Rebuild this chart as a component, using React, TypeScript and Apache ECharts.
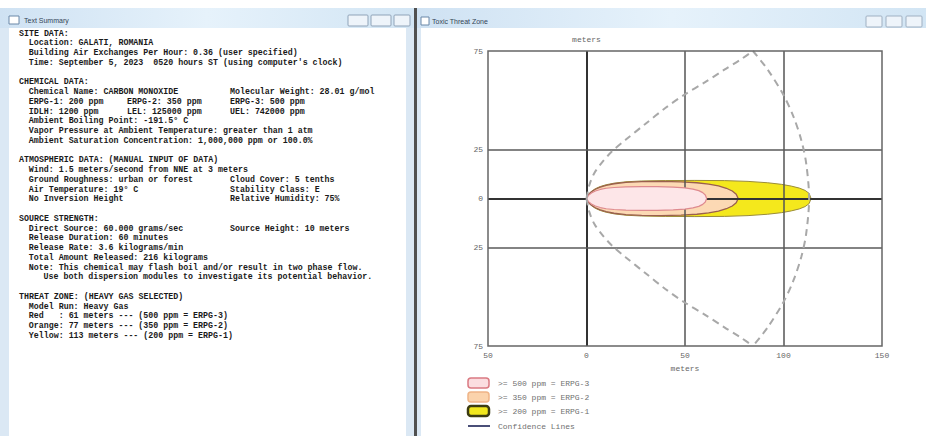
import React, { useEffect, useRef } from 'react';
import * as echarts from 'echarts';

// ---------- data ----------
const xTickValues = [-50, 0, 50, 100, 150];
const yGridValues = [25, 0, -25];
const xGridValues = [0, 50, 100];

// threat zones: downwind distance (m) and half-width (m)
const redX = [0, 1, 2.5, 4.5, 7, 10, 14, 20, 28, 36, 44, 50, 54, 57, 59, 60.3, 61];
const redHalf = [0, 1.6, 2.8, 3.8, 4.6, 5.2, 5.6, 5.9, 6, 6, 5.8, 5.4, 4.8, 4, 3, 1.8, 0];
const orangeX = [0, 1, 2.5, 4.5, 7, 10, 14, 20, 28, 38, 48, 56, 62, 67, 71, 74, 76, 77];
const orangeHalf = [0, 2, 3.4, 4.7, 5.8, 6.7, 7.5, 8.2, 8.6, 8.7, 8.5, 8, 7.3, 6.4, 5.2, 3.8, 2.2, 0];
const yellowX = [0, 1, 2.5, 4.5, 7, 10, 14, 20, 28, 40, 55, 70, 82, 92, 99, 104, 108, 111, 113, 114];
const yellowHalf = [0, 2.1, 3.6, 5, 6.1, 7, 7.8, 8.5, 8.9, 9.1, 9.2, 9.1, 8.7, 8, 7.2, 6.3, 5.3, 4.1, 2.6, 0];

// confidence lines: left edge (upper half) and the downwind arc
const confLeftX = [0, 1.5, 4, 8, 13, 20, 30, 40, 50, 60, 70, 78, 84.5];
const confLeftY = [0, 7, 13, 18.5, 24, 30, 38, 46, 53, 59, 65.5, 70.5, 75];
const confArcX = [84.5, 92, 100, 105, 109, 111.5, 113, 111.5, 109, 105, 100, 92, 84.5];
const confArcY = [75, 65.5, 52.6, 41.8, 29.8, 18, 0, -18, -29.8, -41.8, -52.6, -65.5, -75];

const legendLabels = ['>= 500 ppm = ERPG-3', '>= 350 ppm = ERPG-2', '>= 200 ppm = ERPG-1', 'Confidence Lines'];

// text summary: [indent, column1, middle column, right column]
const summaryLines: [number, string, string, string][] = [
  [0, 'SITE DATA:', '', ''],
  [2, 'Location: GALATI, ROMANIA', '', ''],
  [2, 'Building Air Exchanges Per Hour: 0.36 (user specified)', '', ''],
  [2, "Time: September 5, 2023\u00a0\u00a00520 hours ST (using computer's clock)", '', ''],
  [0, '', '', ''],
  [0, 'CHEMICAL DATA:', '', ''],
  [2, 'Chemical Name: CARBON MONOXIDE', '', 'Molecular Weight: 28.01 g/mol'],
  [2, 'ERPG-1: 200 ppm', 'ERPG-2: 350 ppm', 'ERPG-3: 500 ppm'],
  [2, 'IDLH: 1200 ppm', 'LEL: 125000 ppm', 'UEL: 742000 ppm'],
  [2, 'Ambient Boiling Point: -191.5\u00b0 C', '', ''],
  [2, 'Vapor Pressure at Ambient Temperature: greater than 1 atm', '', ''],
  [2, 'Ambient Saturation Concentration: 1,000,000 ppm or 100.0%', '', ''],
  [0, '', '', ''],
  [0, 'ATMOSPHERIC DATA: (MANUAL INPUT OF DATA)', '', ''],
  [2, 'Wind: 1.5 meters/second from NNE at 3 meters', '', ''],
  [2, 'Ground Roughness: urban or forest', '', 'Cloud Cover: 5 tenths'],
  [2, 'Air Temperature: 19\u00b0 C', '', 'Stability Class: E'],
  [2, 'No Inversion Height', '', 'Relative Humidity: 75%'],
  [0, '', '', ''],
  [0, 'SOURCE STRENGTH:', '', ''],
  [2, 'Direct Source: 60.000 grams/sec', '', 'Source Height: 10 meters'],
  [2, 'Release Duration: 60 minutes', '', ''],
  [2, 'Release Rate: 3.6 kilograms/min', '', ''],
  [2, 'Total Amount Released: 216 kilograms', '', ''],
  [2, 'Note: This chemical may flash boil and/or result in two phase flow.', '', ''],
  [5, 'Use both dispersion modules to investigate its potential behavior.', '', ''],
  [0, '', '', ''],
  [0, 'THREAT ZONE: (HEAVY GAS SELECTED)', '', ''],
  [2, 'Model Run: Heavy Gas', '', ''],
  [2, 'Red\u00a0\u00a0\u00a0: 61 meters --- (500 ppm = ERPG-3)', '', ''],
  [2, 'Orange: 77 meters --- (350 ppm = ERPG-2)', '', ''],
  [2, 'Yellow: 113 meters --- (200 ppm = ERPG-1)', '', ''],
];

const MONO = '"Liberation Mono", "DejaVu Sans Mono", monospace';

function zoneSeries(name: string, xs: number[], hs: number[], fill: string, stroke: string, lw: number, z: number) {
  const upper = xs.map((x, i) => [x, hs[i]]);
  const lower: number[][] = [];
  for (let i = xs.length - 2; i >= 1; i--) lower.push([xs[i], -hs[i]]);
  const pts = upper.concat(lower);
  return {
    type: 'custom',
    name,
    z,
    silent: true,
    clip: true,
    data: pts,
    encode: { x: 0, y: 1 },
    renderItem: (params: any, api: any) => {
      if (params.dataIndex !== 0) return null;
      const points = pts.map((p) => api.coord(p));
      return {
        type: 'polygon',
        shape: { points },
        style: { fill, stroke, lineWidth: lw, lineJoin: 'round' },
      };
    },
  };
}

function confSeries(name: string, pts: number[][]) {
  return {
    type: 'line', name, z: 9, silent: true, data: pts, symbol: 'none',
    smooth: 0.3, clip: true,
    lineStyle: { color: '#a8a8a8', width: 2, type: [7, 5] },
  };
}

function buildGraphic() {
  const els: any[] = [];
  const titleGrad = {
    type: 'linear', x: 0, y: 0, x2: 1, y2: 0,
    colorStops: [
      { offset: 0, color: '#cfe2f3' },
      { offset: 0.5, color: '#e6f2fb' },
      { offset: 1, color: '#d2e5f4' },
    ],
  };
  // left window
  els.push({ type: 'rect', z: -10, silent: true, shape: { x: 0, y: 8, width: 414, height: 428 }, style: { fill: '#dbe8f4' } });
  els.push({ type: 'rect', z: -9, silent: true, shape: { x: 0, y: 8, width: 414, height: 20 }, style: { fill: titleGrad } });
  els.push({ type: 'rect', z: -9, silent: true, shape: { x: 9, y: 28, width: 397, height: 408 }, style: { fill: '#ffffff' } });
  // divider
  els.push({ type: 'rect', z: -9, silent: true, shape: { x: 414, y: 8, width: 3, height: 428 }, style: { fill: '#505050' } });
  // right window
  els.push({ type: 'rect', z: -10, silent: true, shape: { x: 417, y: 8, width: 509, height: 428 }, style: { fill: '#dbe8f4' } });
  els.push({ type: 'rect', z: -9, silent: true, shape: { x: 417, y: 8, width: 509, height: 20 }, style: { fill: titleGrad } });
  els.push({ type: 'rect', z: -9, silent: true, shape: { x: 421, y: 28, width: 505, height: 408 }, style: { fill: '#ffffff' } });

  // title icons and texts
  els.push({ type: 'rect', z: -8, silent: true, shape: { x: 9, y: 16, width: 10, height: 8 }, style: { fill: '#ffffff', stroke: '#6b88a8', lineWidth: 1 } });
  els.push({ type: 'text', z: -8, silent: true, style: { text: 'Text Summary', x: 24, y: 20, font: '7px "Liberation Sans", sans-serif', fill: '#334455', textVerticalAlign: 'middle' } });
  els.push({ type: 'rect', z: -8, silent: true, shape: { x: 421, y: 17, width: 8, height: 8 }, style: { fill: '#ffffff', stroke: '#6b88a8', lineWidth: 1 } });
  els.push({ type: 'text', z: -8, silent: true, style: { text: 'Toxic Threat Zone', x: 432, y: 21, font: '7px "Liberation Sans", sans-serif', fill: '#334455', textVerticalAlign: 'middle' } });

  // window buttons
  const leftBtns = [[348, 20], [371, 20], [394, 16]];
  leftBtns.forEach(([bx, bw]) => {
    els.push({ type: 'rect', z: -8, silent: true, shape: { x: bx, y: 15, width: bw, height: 11, r: 1 }, style: { fill: '#eef4fa', stroke: '#8fa3b8', lineWidth: 1 } });
  });
  const rightBtns = [[866, 16], [886, 16], [906, 16]];
  rightBtns.forEach(([bx, bw]) => {
    els.push({ type: 'rect', z: -8, silent: true, shape: { x: bx, y: 16, width: bw, height: 11, r: 1 }, style: { fill: '#eef4fa', stroke: '#9fb0c2', lineWidth: 1 } });
  });

  // summary text
  const lineH = 9.75;
  summaryLines.forEach(([ind, c1, c2, c3], i) => {
    const y = 33 + i * lineH;
    const font = 'bold 8.3px ' + MONO;
    if (c1) els.push({ type: 'text', z: 1, silent: true, style: { text: c1, x: 19 + ind * 4.9, y, font, fill: '#1a1a1a', textVerticalAlign: 'middle' } });
    if (c2) els.push({ type: 'text', z: 1, silent: true, style: { text: c2, x: 127, y, font, fill: '#1a1a1a', textVerticalAlign: 'middle' } });
    if (c3) els.push({ type: 'text', z: 1, silent: true, style: { text: c3, x: 230, y, font, fill: '#1a1a1a', textVerticalAlign: 'middle' } });
  });

  // legend
  const boxY = [378, 392, 406];
  const boxFill = ['#fbdde0', '#fbd3ac', '#f2e81e'];
  const boxStroke = ['#da7a82', '#efb487', '#3c3c12'];
  const boxLw = [1.5, 1.5, 2.5];
  boxY.forEach((by, i) => {
    els.push({ type: 'rect', z: 5, silent: true, shape: { x: 468, y: by, width: 21, height: 10, r: 3 }, style: { fill: boxFill[i], stroke: boxStroke[i], lineWidth: boxLw[i] } });
  });
  els.push({ type: 'line', z: 5, silent: true, shape: { x1: 468, y1: 426, x2: 490, y2: 426 }, style: { stroke: '#4a4f78', lineWidth: 2 } });
  const legendY = [383, 397, 411, 426];
  legendLabels.forEach((t, i) => {
    els.push({ type: 'text', z: 5, silent: true, style: { text: t, x: 498, y: legendY[i], font: '8px ' + MONO, fill: '#707070', textVerticalAlign: 'middle' } });
  });
  return els;
}

export default function App() {
  const ref = useRef<HTMLDivElement>(null);
  useEffect(() => {
    document.body.style.margin = '0';
    if (!ref.current) return;
    const chart = echarts.init(ref.current, undefined, { renderer: 'svg' });

    const leftUpper = confLeftX.map((x, i) => [x, confLeftY[i]]);
    const leftLower = confLeftX.map((x, i) => [x, -confLeftY[i]]);
    const arc = confArcX.map((x, i) => [x, confArcY[i]]);

    const gridMarks: any[] = [];
    xGridValues.forEach((v) => gridMarks.push({ xAxis: v, lineStyle: { color: v === 0 ? '#333333' : '#555555', width: v === 0 ? 2 : 1.5, type: 'solid' } }));
    yGridValues.forEach((v) => gridMarks.push({ yAxis: v, lineStyle: { color: v === 0 ? '#333333' : '#5a5a5a', width: v === 0 ? 2 : 1.5, type: 'solid' } }));

    const option: any = {
      animation: false,
      backgroundColor: '#ffffff',
      graphic: { elements: buildGraphic() },
      grid: {
        left: 488, top: 51, width: 394, height: 295,
        show: true, borderColor: '#666666', borderWidth: 1.5, backgroundColor: 'transparent', z: 12,
      },
      xAxis: {
        type: 'value', min: -50, max: 150, interval: 50,
        name: 'meters', nameLocation: 'middle', nameGap: 18,
        nameTextStyle: { fontFamily: MONO, fontSize: 8, color: '#666666' },
        axisLine: { show: false }, axisTick: { show: false }, splitLine: { show: false },
        axisLabel: {
          margin: 5, fontFamily: MONO, fontSize: 8, color: '#666666',
          formatter: (v: number) => (xTickValues.indexOf(v) >= 0 ? String(Math.abs(v)) : ''),
        },
      },
      yAxis: {
        type: 'value', min: -75, max: 75, interval: 25,
        name: 'meters', nameLocation: 'end', nameGap: 8,
        nameTextStyle: { fontFamily: MONO, fontSize: 8, color: '#666666' },
        axisLine: { show: false }, axisTick: { show: false }, splitLine: { show: false },
        axisLabel: {
          margin: 5, fontFamily: MONO, fontSize: 8, color: '#666666',
          formatter: (v: number) => (Math.abs(v) === 50 ? '' : String(Math.abs(v))),
        },
      },
      series: [
        zoneSeries('yellow', yellowX, yellowHalf, '#f4e81c', '#9a8c3a', 1, 3),
        zoneSeries('orange', orangeX, orangeHalf, '#fcd9b4', '#9a5f4e', 1.3, 4),
        zoneSeries('red', redX, redHalf, '#fde6e8', '#de8a8f', 1.2, 5),
        {
          type: 'line', name: 'grid', z: 8, silent: true, data: [], symbol: 'none',
          markLine: { silent: true, symbol: 'none', label: { show: false }, data: gridMarks, animation: false },
        },
        confSeries('Confidence Lines', leftUpper),
        confSeries('Confidence Lines', arc),
        confSeries('Confidence Lines', leftLower),
      ],
    };
    chart.setOption(option);
    return () => chart.dispose();
  }, []);
  return <div ref={ref} style={{ width: 926, height: 436 }} />;
}
